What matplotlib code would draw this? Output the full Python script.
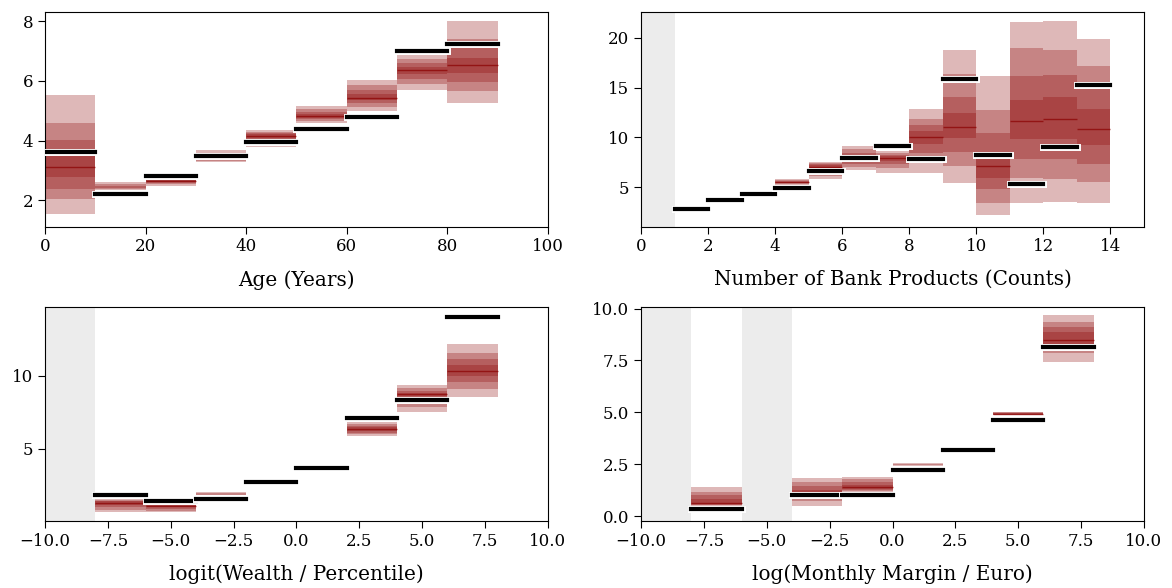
import numpy as np
import matplotlib
matplotlib.use("Agg")
import matplotlib.pyplot as plt
import matplotlib.patheffects as pe

plt.rcParams["font.family"] = "DejaVu Serif"
plt.rcParams["font.size"] = 12
plt.rcParams["axes.labelsize"] = "large"
plt.rcParams["axes.labelpad"] = 10.5
plt.rcParams["xtick.major.size"] = 5
plt.rcParams["ytick.major.size"] = 5

nan = np.nan

# ---- Age ----
age_left = [0, 10, 20, 30, 40, 50, 60, 70, 80]
age_width = 10
age_obs = [3.62, 2.22, 2.80, 3.47, 3.96, 4.40, 4.80, 7.00, 7.25]
age_med = [3.10, nan, 2.64, 3.46, 4.15, 4.82, 5.44, 6.36, 6.52]
age_lo = [[1.53, 2.35, 2.47, 3.27, 3.78, 4.58, 4.99, 5.71, 5.27],
          [2.05, 2.38, 2.53, 3.33, 3.88, 4.65, 5.12, 5.90, 5.66],
          [2.38, 2.40, 2.58, 3.38, 3.98, 4.71, 5.25, 6.05, 5.96],
          [2.77, nan, 2.62, nan, 4.07, 4.76, 5.35, 6.22, 6.25]]
age_hi = [[5.52, 2.62, 2.76, 3.68, 4.34, 5.16, 6.02, 6.88, 8.00],
          [4.60, 2.55, 2.72, 3.60, 4.28, 5.05, 5.85, 6.72, 7.41],
          [4.03, 2.48, 2.70, 3.54, 4.24, 4.95, 5.68, 6.60, 7.11],
          [3.48, nan, 2.69, nan, 4.21, 4.88, 5.55, 6.48, 6.77]]

# ---- Number of bank products ----
prod_left = [1, 2, 3, 4, 5, 6, 7, 8, 9, 10, 11, 12, 13]
prod_width = 1
prod_obs = [2.81, 3.68, 4.28, 4.88, 6.62, 7.95, 9.12, 7.85, 15.88, 8.21, 5.27, 9.02, 15.31]
prod_med = [nan, nan, nan, 5.48, 7.00, 7.90, 7.95, 10.06, 11.06, 7.11, 11.63, 11.80, 10.89]
prod_lo = [[nan, nan, nan, 5.25, 5.80, 6.70, 6.45, 6.45, 5.37, 2.16, 3.43, 3.50, 3.36],
           [nan, nan, nan, 5.32, 6.10, 7.00, 6.90, 7.40, 7.11, 3.43, 5.94, 5.77, 5.50],
           [nan, nan, nan, 5.38, 6.60, 7.35, 7.30, 8.45, 8.52, 4.77, 7.78, 7.78, 7.28],
           [nan, nan, nan, 5.43, 6.85, 7.65, 7.60, 9.35, 9.96, 5.94, 9.79, 9.79, 9.19]]
prod_hi = [[nan, nan, nan, 5.80, 7.55, 9.15, 8.62, 12.87, 18.76, 16.20, 21.57, 21.67, 19.90],
           [nan, nan, nan, 5.70, 7.40, 8.80, 8.45, 11.87, 16.40, 12.73, 19.00, 18.76, 17.15],
           [nan, nan, nan, 5.60, 7.30, 8.45, 8.25, 11.20, 14.07, 10.40, 16.20, 16.30, 14.98],
           [nan, nan, nan, 5.53, 7.20, 8.15, 8.10, 10.62, 12.40, 7.78, 13.73, 14.07, 12.87]]
prod_empty = [(0, 1)]

# ---- logit(Wealth) ----
wealth_left = [-8, -6, -4, -2, 0, 2, 4, 6]
wealth_width = 2
wealth_obs = [1.85, 1.42, 1.56, 2.75, 3.67, 7.11, 8.33, 14.06]
wealth_med = [1.28, 1.10, nan, nan, nan, 6.38, 8.75, 10.32]
wealth_lo = [[0.71, 0.68, 1.85, nan, nan, 5.87, 7.52, 8.55],
             [0.85, 0.78, 1.88, nan, nan, 6.00, 7.90, 9.13],
             [1.00, 0.90, nan, nan, nan, 6.12, 8.30, 9.59],
             [1.14, 1.00, nan, nan, nan, 6.25, 8.60, 10.00]]
wealth_hi = [[1.56, 1.25, 2.06, nan, nan, 6.83, 9.36, 12.18],
             [1.50, 1.22, 2.02, nan, nan, 6.72, 9.15, 11.54],
             [1.45, 1.18, nan, nan, nan, 6.60, 9.00, 11.15],
             [1.42, 1.15, nan, nan, nan, 6.50, 8.85, 10.73]]
wealth_empty = [(-10, -8)]

# ---- log(Monthly margin) ----
margin_left = [-8, -4, -2, 0, 2, 4, 6]
margin_width = 2
margin_obs = [0.32, 1.02, 1.02, 2.22, 3.16, 4.65, 8.14]
margin_med = [0.62, 1.10, 1.38, nan, nan, 4.93, 8.48]
margin_lo = [[0.49, 0.49, 1.13, 2.42, nan, 4.85, 7.41],
             [0.52, 0.73, 1.20, 2.45, nan, 4.87, 7.85],
             [0.55, 0.90, 1.27, nan, nan, 4.89, 8.05],
             [0.58, 1.00, 1.32, nan, nan, 4.91, 8.30]]
margin_hi = [[1.38, 1.82, 1.90, 2.55, nan, 5.02, 9.68],
             [1.18, 1.65, 1.80, 2.52, nan, 5.00, 9.35],
             [1.00, 1.45, 1.65, nan, nan, 4.98, 9.10],
             [0.80, 1.25, 1.50, nan, nan, 4.96, 8.85]]
margin_empty = [(-10, -8), (-6, -4)]


def draw(ax, left, width, obs, med, lo, hi, empty, xlabel, xlim, ylim):
    for a, b in empty:
        ax.axvspan(a, b, color="#ececec", lw=0, zorder=0)
    for lev_lo, lev_hi in zip(lo, hi):
        for x0, l, h in zip(left, lev_lo, lev_hi):
            if np.isnan(l):
                continue
            ax.fill_between([x0, x0 + width], l, h, color="darkred", alpha=0.28, lw=0, zorder=1)
    left = np.array(left, dtype=float)
    ax.hlines(med, left, left + width, color="darkred", alpha=0.7, lw=1.0, zorder=2)
    ax.hlines(obs, left, left + width, color="black", lw=3, capstyle="projecting", zorder=3,
              path_effects=[pe.withStroke(linewidth=5, foreground="white")])
    ax.set_xlim(*xlim)
    ax.set_ylim(*ylim)
    ax.set_xlabel(xlabel)


fig, axes = plt.subplots(2, 2, figsize=(11.72, 5.88), dpi=100)
plt.subplots_adjust(left=0.0384, right=0.9761, top=0.9796, bottom=0.1139, hspace=0.373, wspace=0.185)

draw(axes[0, 0], age_left, age_width, age_obs, age_med, age_lo, age_hi, [],
     "Age (Years)", (0, 100), (1.12, 8.31))
draw(axes[0, 1], prod_left, prod_width, prod_obs, prod_med, prod_lo, prod_hi, prod_empty,
     "Number of Bank Products (Counts)", (0, 15), (1.04, 22.6))
draw(axes[1, 0], wealth_left, wealth_width, wealth_obs, wealth_med, wealth_lo, wealth_hi, wealth_empty,
     "logit(Wealth / Percentile)", (-10, 10), (0.07, 14.75))
draw(axes[1, 1], margin_left, margin_width, margin_obs, margin_med, margin_lo, margin_hi, margin_empty,
     "log(Monthly Margin / Euro)", (-10, 10), (-0.24, 10.1))

axes[0, 0].set_yticks([2, 4, 6, 8])
axes[0, 1].set_yticks([5, 10, 15, 20])
axes[1, 0].set_yticks([5, 10])
axes[1, 1].set_yticks([0, 2.5, 5, 7.5, 10])

plt.savefig("out.png")
